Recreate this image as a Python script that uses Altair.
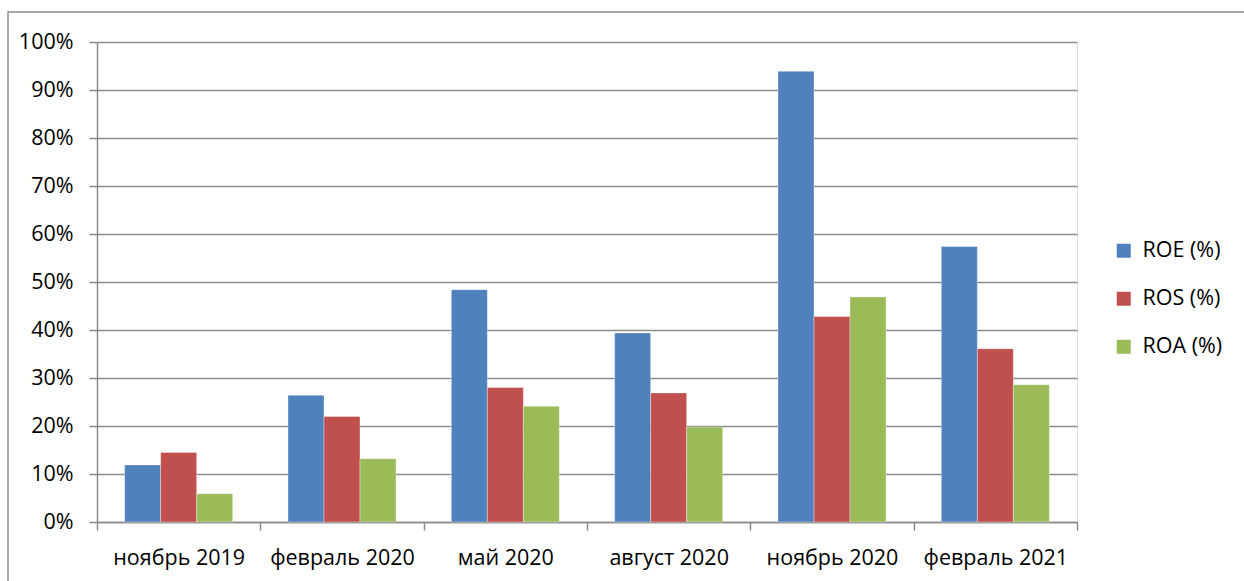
import altair as alt
import pandas as pd

categories = ["ноябрь 2019", "февраль 2020", "май 2020", "август 2020", "ноябрь 2020", "февраль 2021"]
series = ["ROE (%)", "ROS (%)", "ROA (%)"]
roe = [11.9, 26.4, 48.4, 39.4, 93.9, 57.4]
ros = [14.5, 22.0, 28.0, 26.9, 42.8, 36.1]
roa = [5.9, 13.2, 24.1, 19.8, 46.9, 28.6]
colors = ["#4F81BD", "#C0504D", "#9BBB59"]
y_ticks = [0, 10, 20, 30, 40, 50, 60, 70, 80, 90, 100]

rows = []
for name, vals in zip(series, [roe, ros, roa]):
    for c, v in zip(categories, vals):
        rows.append({"cat": c, "series": name, "value": v})
df = pd.DataFrame(rows)

FONT = "Open Sans"
FS = 21.5
GRID = "#8C8C8C"

bars = alt.Chart(df).mark_bar(stroke="#FFFFFF", strokeOpacity=0.35, strokeWidth=1).encode(
    x=alt.X("cat:N", sort=categories, title=None,
            scale=alt.Scale(paddingInner=0, paddingOuter=0),
            axis=alt.Axis(labelAngle=0, labelFont=FONT, labelFontSize=FS, labelColor="#000000",
                          labelBaseline="alphabetic", labelPadding=34,
                          tickBand="extent", tickSize=8, tickColor=GRID, tickWidth=1.5,
                          domainColor=GRID, domainWidth=1.5, grid=False)),
    xOffset=alt.XOffset("series:N", sort=series, scale=alt.Scale(paddingInner=0, paddingOuter=0.768)),
    y=alt.Y("value:Q", title=None,
            scale=alt.Scale(domain=[0, 100], nice=False),
            axis=alt.Axis(values=y_ticks, labelExpr="datum.value + '%'", labelFont=FONT,
                          labelFontSize=FS, labelColor="#000000", labelPadding=16,
                          tickSize=8, tickColor=GRID, tickWidth=1.5,
                          domainColor=GRID, domainWidth=1.5,
                          grid=True, gridColor=GRID, gridWidth=1.5)),
    color=alt.Color("series:N", sort=series, title=None,
                    scale=alt.Scale(domain=series, range=colors),
                    legend=alt.Legend(orient="none", legendX=1016, legendY=198,
                                      symbolType="square", symbolSize=196, symbolStrokeWidth=0,
                                      labelFont=FONT, labelFontSize=FS, labelColor="#000000",
                                      labelOffset=8, rowPadding=25)),
)

border = alt.Chart(pd.DataFrame({"a": [0]})).mark_rect(fill=None, stroke="#8C8C8C", strokeWidth=1.5).encode(
    x=alt.value(-89), x2=alt.value(1160), y=alt.value(-30), y2=alt.value(550)
)

chart = alt.layer(bars, border).properties(
    width=980, height=480,
    autosize=alt.AutoSizeParams(type="none"),
    padding={"left": 97, "top": 42, "right": 167, "bottom": 59},
).configure_view(stroke=None).configure(background="#FFFFFF")

chart.save("out.html", embed_options={"renderer": "svg", "actions": False})
